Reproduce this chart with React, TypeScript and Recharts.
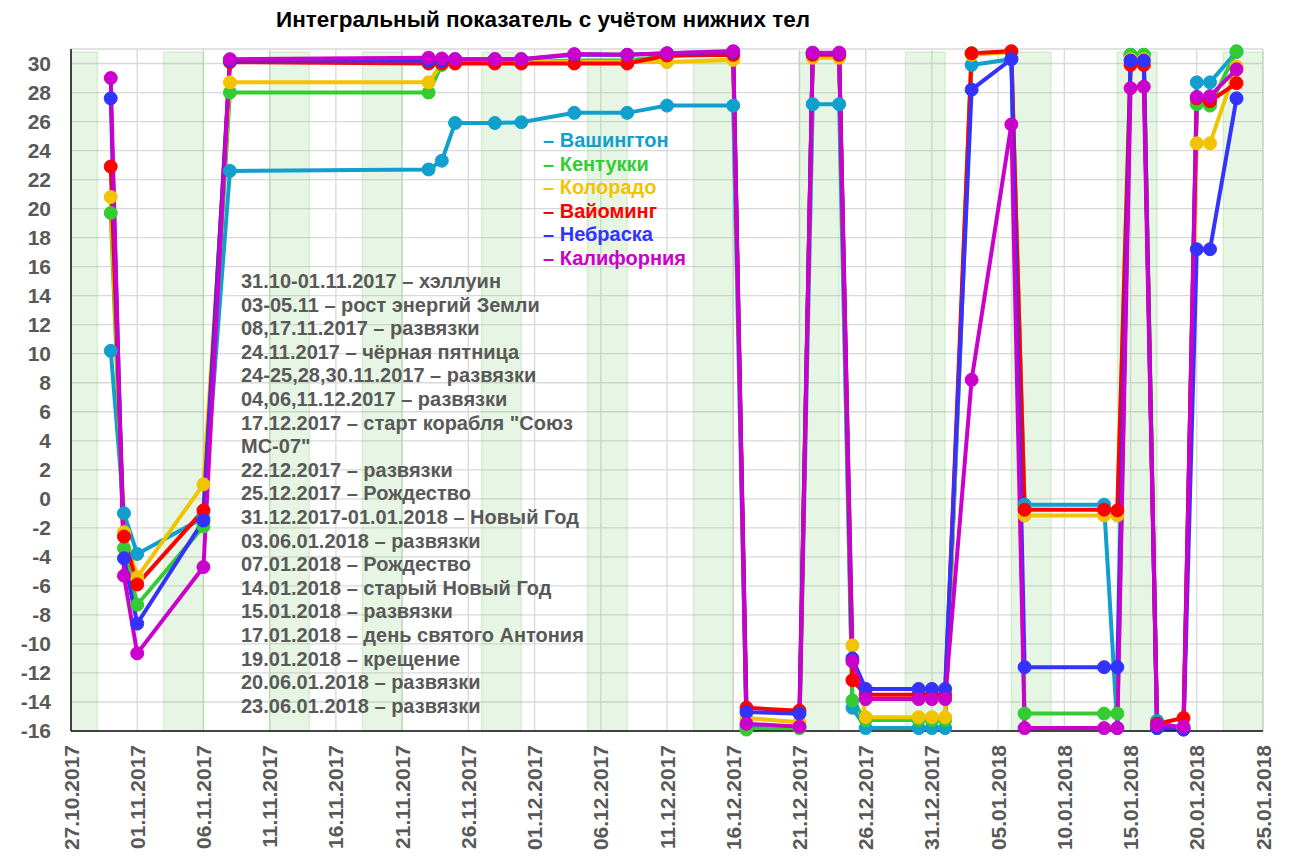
import React from "react";
import {
  LineChart,
  Line,
  XAxis,
  YAxis,
  CartesianGrid,
  ReferenceArea,
} from "recharts";

const FONT = '"Liberation Sans", Arial, sans-serif';

const dates = [
  "30.10.2017", "31.10.2017", "01.11.2017", "06.11.2017", "08.11.2017",
  "23.11.2017", "24.11.2017", "25.11.2017", "28.11.2017", "30.11.2017",
  "04.12.2017", "08.12.2017", "11.12.2017", "16.12.2017", "17.12.2017",
  "21.12.2017", "22.12.2017", "24.12.2017", "25.12.2017", "26.12.2017",
  "30.12.2017", "31.12.2017", "01.01.2018", "03.01.2018", "06.01.2018",
  "07.01.2018", "13.01.2018", "14.01.2018", "15.01.2018", "16.01.2018",
  "17.01.2018", "19.01.2018", "20.01.2018", "21.01.2018", "23.01.2018",
];

const washington = [
  10.2, -1.0, -3.8, -1.3, 22.6, 22.7, 23.3, 25.9, 25.9, 25.95, 26.6, 26.6,
  27.1, 27.1, -15.7, -15.7, 27.2, 27.2, -14.4, -15.8, -15.8, -15.8, -15.8,
  29.9, 30.3, -0.4, -0.4, -15.8, 30.6, 30.6, -15.3, -15.9, 28.7, 28.7, 30.8,
];
const kentucky = [
  19.7, -3.4, -7.3, -1.9, 28.0, 28.0, 29.9, 30.1, 30.1, 30.1, 30.2, 30.2,
  30.5, 30.7, -15.9, -15.8, 30.6, 30.6, -13.9, -15.25, -15.25, -15.25, -15.25,
  30.7, 30.8, -14.8, -14.8, -14.8, 30.6, 30.6, -15.8, -15.8, 27.2, 27.1, 30.85,
];
const colorado = [
  20.8, -2.3, -5.4, 1.0, 28.7, 28.7, 30.0, 30.1, 30.1, 30.1, 30.1, 30.1,
  30.1, 30.25, -15.1, -15.4, 30.4, 30.4, -10.1, -15.05, -15.05, -15.05, -15.05,
  30.6, 30.8, -1.15, -1.15, -1.15, 30.3, 30.3, -15.6, -15.8, 24.5, 24.5, 29.8,
];
const wyoming = [
  22.9, -2.6, -5.9, -0.8, 30.1, 30.0, 30.0, 30.0, 30.0, 30.0, 30.0, 30.0,
  30.55, 30.6, -14.4, -14.6, 30.6, 30.6, -12.5, -13.5, -13.5, -13.5, -13.5,
  30.7, 30.85, -0.75, -0.75, -0.8, 29.9, 29.9, -15.5, -15.1, 27.6, 27.4, 28.65,
];
const nebraska = [
  27.6, -4.1, -8.6, -1.5, 30.2, 30.2, 30.2, 30.3, 30.3, 30.3, 30.6, 30.6,
  30.7, 30.8, -14.7, -14.8, 30.7, 30.7, -11.0, -13.1, -13.1, -13.1, -13.1,
  28.2, 30.3, -11.6, -11.6, -11.6, 30.2, 30.2, -15.8, -15.9, 17.2, 17.2, 27.6,
];
const california = [
  29.0, -5.3, -10.65, -4.7, 30.3, 30.4, 30.35, 30.3, 30.3, 30.3, 30.65, 30.6,
  30.7, 30.85, -15.5, -15.7, 30.75, 30.75, -11.2, -13.8, -13.8, -13.8, -13.8,
  8.2, 25.8, -15.8, -15.8, -15.8, 28.3, 28.4, -15.6, -15.7, 27.7, 27.75, 29.6,
];

const series = [
  { key: "washington", name: "Вашингтон", color: "#119fce", values: washington },
  { key: "kentucky", name: "Кентукки", color: "#33cc33", values: kentucky },
  { key: "colorado", name: "Колорадо", color: "#f2c300", values: colorado },
  { key: "wyoming", name: "Вайоминг", color: "#ff0000", values: wyoming },
  { key: "nebraska", name: "Небраска", color: "#3333ff", values: nebraska },
  { key: "california", name: "Калифорния", color: "#cc00cc", values: california },
];

// shaded green columns (start, end)
const bands = [
  ["27.10.2017", "29.10.2017"],
  ["03.11.2017", "06.11.2017"],
  ["11.11.2017", "14.11.2017"],
  ["18.11.2017", "21.11.2017"],
  ["27.11.2017", "30.11.2017"],
  ["05.12.2017", "08.12.2017"],
  ["13.12.2017", "16.12.2017"],
  ["21.12.2017", "24.12.2017"],
  ["29.12.2017", "01.01.2018"],
  ["06.01.2018", "09.01.2018"],
  ["14.01.2018", "17.01.2018"],
  ["22.01.2018", "25.01.2018"],
];

const xTicks = [0, 5, 10, 15, 20, 25, 30, 35, 40, 45, 50, 55, 60, 65, 70, 75, 80, 85, 90];
const yTicks = [-16, -14, -12, -10, -8, -6, -4, -2, 0, 2, 4, 6, 8, 10, 12, 14, 16, 18, 20, 22, 24, 26, 28, 30];

const notes = [
  "31.10-01.11.2017 – хэллуин",
  "03-05.11 – рост энергий Земли",
  "08,17.11.2017 – развязки",
  "24.11.2017 – чёрная пятница",
  "24-25,28,30.11.2017 – развязки",
  "04,06,11.12.2017 – развязки",
  '17.12.2017 – старт корабля "Союз',
  'МС-07"',
  "22.12.2017 – развязки",
  "25.12.2017 – Рождество",
  "31.12.2017-01.01.2018 – Новый Год",
  "03.06.01.2018 – развязки",
  "07.01.2018 – Рождество",
  "14.01.2018 – старый Новый Год",
  "15.01.2018 – развязки",
  "17.01.2018 – день святого Антония",
  "19.01.2018 – крещение",
  "20.06.01.2018 – развязки",
  "23.06.01.2018 – развязки",
];

const ORIGIN = Date.UTC(2017, 9, 27);
const DAY = 86400000;

const toDay = (s: string) => {
  const [d, m, y] = s.split(".").map(Number);
  return Math.round((Date.UTC(y, m - 1, d) - ORIGIN) / DAY);
};

const fmtDay = (n: number) => {
  const dt = new Date(ORIGIN + n * DAY);
  const dd = String(dt.getUTCDate()).padStart(2, "0");
  const mm = String(dt.getUTCMonth() + 1).padStart(2, "0");
  return `${dd}.${mm}.${dt.getUTCFullYear()}`;
};

const data = dates.map((d, i) => {
  const row: any = { day: toDay(d) };
  series.forEach((s) => {
    row[s.key] = s.values[i];
  });
  return row;
});

const DateTick = (props: any) => {
  const { x, y, payload } = props;
  return (
    <text
      x={0}
      y={0}
      transform={`translate(${x},${y + 6}) rotate(-90)`}
      textAnchor="end"
      dy="0.36em"
      fill="#595959"
      fontSize={21}
      fontWeight={700}
      fontFamily={FONT}
    >
      {fmtDay(payload.value)}
    </text>
  );
};

const App = () => {
  return (
    <div
      style={{
        position: "absolute",
        left: 0,
        top: 0,
        width: 1304,
        height: 862,
        background: "#fff",
        fontFamily: FONT,
      }}
    >
      <LineChart
        width={1304}
        height={862}
        data={data}
        margin={{ top: 49, right: 41, bottom: 0, left: 0 }}
      >
        <CartesianGrid stroke="#d9d9d9" strokeWidth={1.3} />
        {bands.map(([a, b]) => (
          <ReferenceArea
            key={a}
            x1={toDay(a)}
            x2={toDay(b)}
            y1={-16}
            y2={30.8}
            fill="#7fcf70"
            fillOpacity={0.19}
            stroke="#7fcf70"
            strokeOpacity={0.25}
            strokeWidth={1.5}
          />
        ))}
        <XAxis
          dataKey="day"
          type="number"
          domain={[0, 90]}
          ticks={xTicks}
          interval={0}
          height={131}
          tick={<DateTick />}
          tickLine={false}
          axisLine={{ stroke: "#111", strokeWidth: 1.5 }}
        />
        <YAxis
          type="number"
          domain={[-16, 31]}
          ticks={yTicks}
          interval={0}
          width={71}
          tickLine={false}
          tickMargin={14}
          tick={{ fill: "#595959", fontSize: 21, fontWeight: 700, fontFamily: FONT }}
          axisLine={{ stroke: "#111", strokeWidth: 1.5 }}
        />
        {series.map((s) => (
          <Line
            key={s.key}
            type="linear"
            dataKey={s.key}
            name={s.name}
            stroke={s.color}
            strokeWidth={4}
            dot={{ r: 6.5, fill: s.color, stroke: s.color, strokeWidth: 1 }}
            activeDot={false}
            isAnimationActive={false}
          />
        ))}
      </LineChart>

      <div
        style={{
          position: "absolute",
          left: 243,
          top: 6,
          width: 600,
          textAlign: "center",
          fontSize: 22.5,
          fontWeight: 700,
          color: "#000",
          lineHeight: "28px",
        }}
      >
        Интегральный показатель с учётом нижних тел
      </div>

      <div
        style={{
          position: "absolute",
          left: 543,
          top: 129,
          fontSize: 20,
          fontWeight: 700,
          lineHeight: "23.5px",
          whiteSpace: "pre",
        }}
      >
        {series.map((s) => (
          <div key={s.key} style={{ color: s.color }}>
            – {s.name}
          </div>
        ))}
      </div>

      <div
        style={{
          position: "absolute",
          left: 241,
          top: 270,
          fontSize: 20,
          fontWeight: 700,
          lineHeight: "23.6px",
          color: "#595959",
          whiteSpace: "pre",
        }}
      >
        {notes.map((n, i) => (
          <div key={i}>{n}</div>
        ))}
      </div>
    </div>
  );
};

export default App;
